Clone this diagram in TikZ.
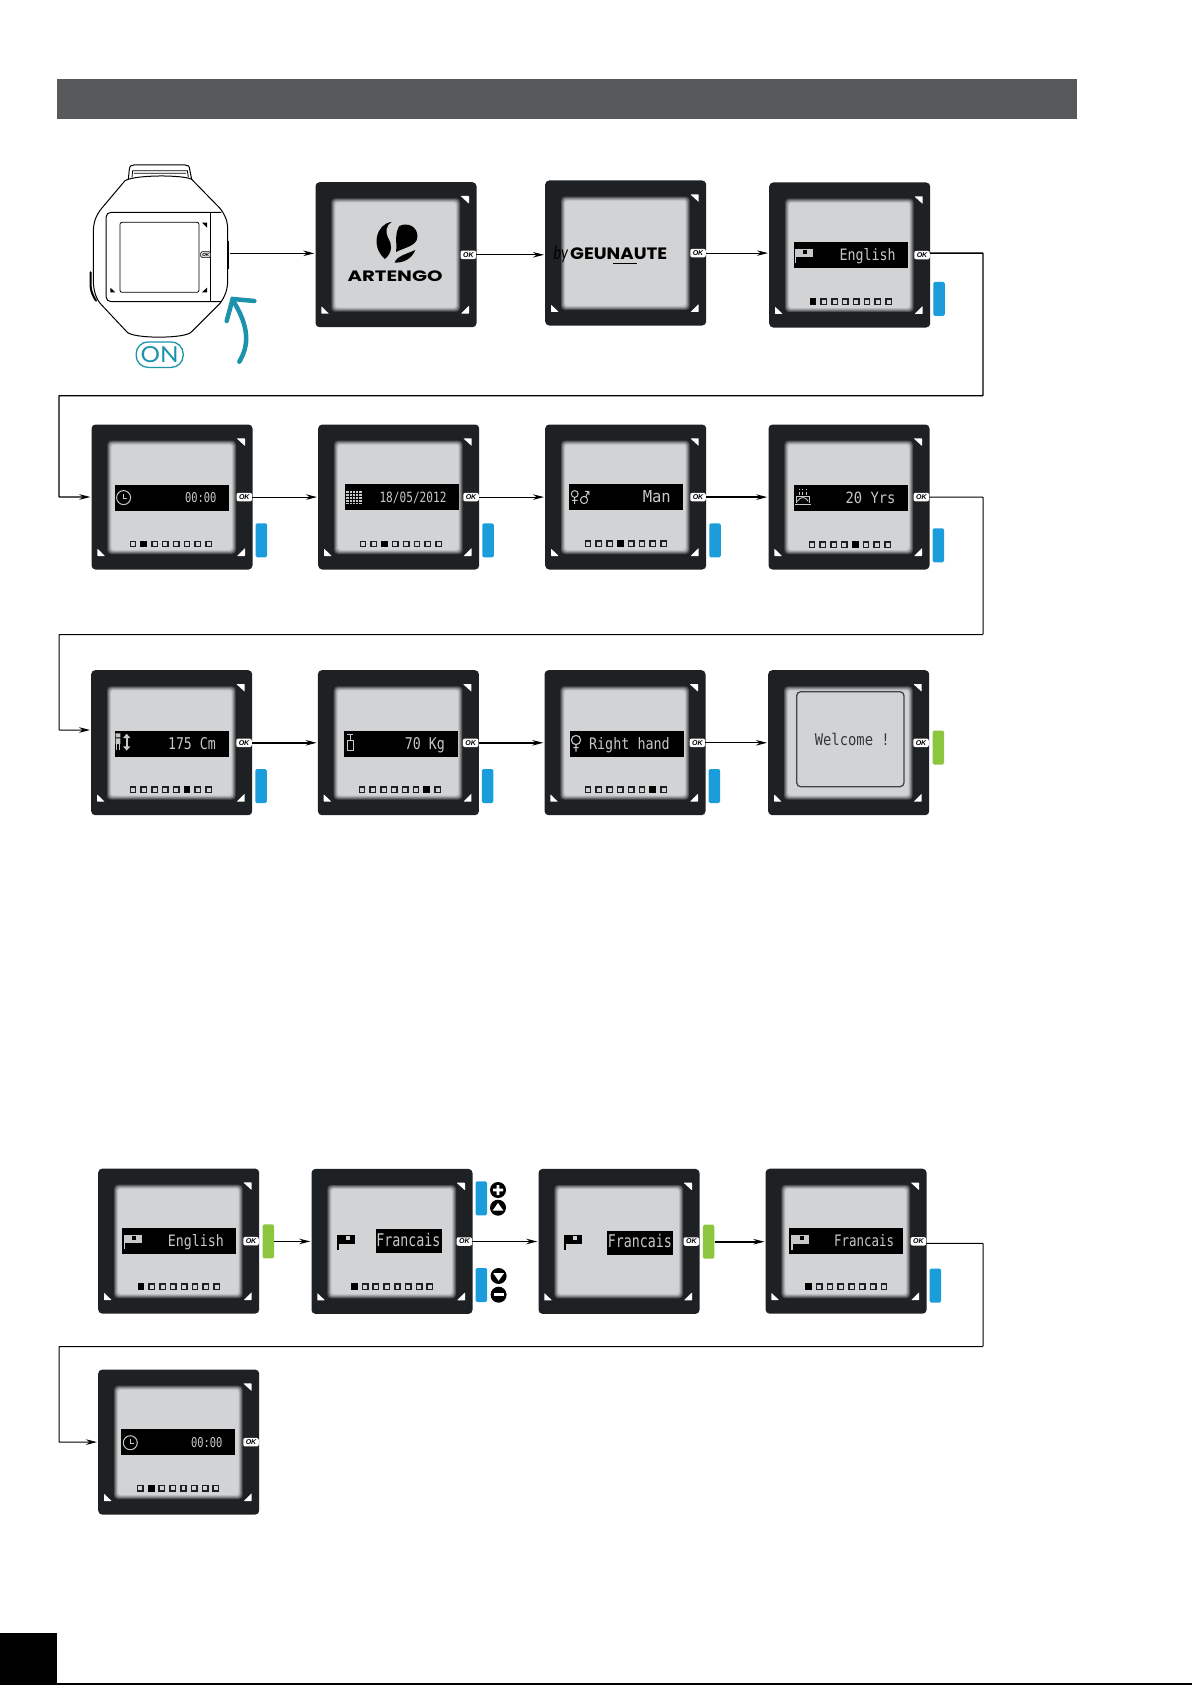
\documentclass[tikz,border=0pt]{standalone}
\usepackage{fontspec}
\usepackage{graphicx}
\usetikzlibrary{arrows.meta}
\setmainfont{Liberation Sans}
\newfontfamily\lcdfont{DejaVu Sans Mono}
\newfontfamily\logofont{Poppins}
\newfontfamily\onfont{Lato}
\definecolor{framecol}{HTML}{1E2124}
\definecolor{lcdcol}{HTML}{D1D3D4}
\definecolor{lcdtext}{HTML}{C6C8CA}
\definecolor{headcol}{HTML}{58595B}
\definecolor{bluecol}{HTML}{1B9DDB}
\definecolor{greencol}{HTML}{8CC63F}
\definecolor{tealcol}{HTML}{1A93AB}
\tikzset{
  framebox/.style={fill=framecol,rounded corners=4pt,inner sep=0pt,minimum width=161pt,minimum height=145pt,anchor=north west},
  okbadge/.style={fill=white,rounded corners=2pt,inner sep=0pt,minimum width=15.5pt,minimum height=8.5pt,font=\fontsize{7}{7}\selectfont\bfseries\itshape,text=black},
  bluemarkb/.style={fill=bluecol,rounded corners=1.5pt,inner sep=0pt,minimum width=11.5pt,minimum height=34pt},
  greenmarkb/.style={fill=greencol,rounded corners=1.5pt,inner sep=0pt,minimum width=11.5pt,minimum height=34pt},
  lcdlabel/.style={anchor=base east,inner sep=0pt,text=lcdtext},
  link/.style={draw=black,line width=1pt,-{Stealth[length=11pt,width=5.5pt]},shorten >=1pt},
  linkbold/.style={link,line width=1.6pt},
  linkroute/.style={link,rounded corners=0.5pt}
}
% frame with screen, corners and OK badge; #4 is drawn in frame coordinates
\newcommand{\screenbox}[4]{%
  \node[framebox] (#1) at (#2,#3) {};
  \begin{scope}[shift={(#2,#3)}]
    \fill[rounded corners=4pt,fill=black!62!lcdcol] (16,16.3) rectangle (144.7,129.7);
    \fill[rounded corners=4pt,fill=black!44!lcdcol] (17,17.3) rectangle (143.7,128.7);
    \fill[rounded corners=3.5pt,fill=black!26!lcdcol] (18,18.3) rectangle (142.7,127.7);
    \fill[rounded corners=3pt,fill=black!12!lcdcol] (19,19.3) rectangle (141.7,126.7);
    \fill[rounded corners=3pt,fill=lcdcol] (20,20.3) rectangle (140.7,125.7);
    \fill[white,rounded corners=0.6pt] (145.3,14) -- (153.7,14) -- (153.7,21.7) -- cycle;
    \fill[white,rounded corners=0.6pt] (6,124.3) -- (6,131.7) -- (13.7,131.7) -- cycle;
    \fill[white,rounded corners=0.6pt] (153.7,123.7) -- (153.7,131.7) -- (145.7,131.7) -- cycle;
    \node[okbadge] (#1-ok) at (153,72.8) {OK};
    #4
  \end{scope}}
\newcommand{\selbar}[2]{\fill[black] (#1,#2) rectangle ++(114,26);}
\newcommand{\lcdtxt}[5]{\node[lcdlabel] at (#1,#2) {\resizebox{#3pt}{#4pt}{\lcdfont #5}};}
\newcommand{\pagedots}[3]{%
  \foreach \k in {1,...,8}{%
    \pgfmathsetmacro{\px}{#1+(\k-1)*10.8}%
    \ifnum\k=#3\relax
      \fill[black] (\px-3.4,#2-3.4) rectangle (\px+3.4,#2+3.4);
    \else
      \draw[framecol,line width=1.5pt] (\px-2.7,#2-2.7) rectangle (\px+2.7,#2+2.7);
    \fi}}
\newcommand{\bluemark}[1]{\node[bluemarkb] at (170,#1) {};}
\newcommand{\greenmark}[2]{\node[greenmarkb] (#1-green) at (170.3,#2) {};}
\newcommand{\iconflag}[2]{%
  \fill[#1] (26,66.6) rectangle (43.7,75);
  \fill[#1] (26,66.6) rectangle (27.2,81);
  \fill[#2] (34.3,67.6) rectangle (38.3,71.6);}
\newcommand{\iconclock}{%
  \draw[lcdtext,line width=1pt] (32.3,73.3) circle (7pt);
  \draw[lcdtext,line width=1pt] (32.3,69.3) -- (32.3,74) -- (36,74);}
\newcommand{\iconcal}{%
  \fill[lcdtext] (28,66.3) rectangle (43.7,79.7);
  \foreach \g in {31,34,37,40}{\draw[black,line width=0.6pt] (\g,66.3) -- (\g,79.7);}
  \foreach \g in {69,72,75,78}{\draw[black,line width=0.6pt] (28,\g) -- (43.7,\g);}}
\newcommand{\icongender}{%
  \draw[lcdtext,line width=1pt] (29.7,69.7) circle (3.4pt) (29.7,73) -- (29.7,79.5) (26.8,76) -- (32.6,76);
  \draw[lcdtext,line width=1pt] (39,75.7) circle (3.6pt) (40.8,72.6) -- (43.3,67) (40,67) -- (43.8,67) -- (44,70.5);}
\newcommand{\iconcake}{%
  \draw[lcdtext,line width=1pt] (28,79) -- (28,71.7) -- (41,71.7) -- (41,79);
  \draw[lcdtext,line width=1.3pt] (26.7,80.2) -- (42.3,80.2);
  \draw[lcdtext,line width=0.9pt] (29,77) .. controls (32,72) and (37,72) .. (40,77);
  \foreach \g in {31,34.3,38.3}{\fill[lcdtext] (\g-0.6,64.4) rectangle (\g+0.6,65.6);
    \draw[lcdtext,line width=0.8pt] (\g,67.4) -- (\g,71);}}
\newcommand{\iconheight}{%
  \fill[lcdtext] (24.7,63.4) rectangle (29.4,67.4) (24.7,68.4) rectangle (29.4,74);
  \draw[lcdtext,line width=1pt] (25.4,74) -- (25.4,80.4) (28.7,74) -- (28.7,80.4);
  \draw[lcdtext,line width=1.6pt] (35.7,66) -- (35.7,78);
  \fill[lcdtext] (32,68) -- (35.7,63.8) -- (39.4,68) -- cycle (32,76.4) -- (35.7,80.6) -- (39.4,76.4) -- cycle;}
\newcommand{\iconweight}{%
  \draw[lcdtext,line width=1pt] (29.3,64.5) -- (35.3,64.5) (32.4,64.5) -- (32.4,70) (29.3,70) rectangle (35.8,80);}
\newcommand{\iconhand}{%
  \draw[lcdtext,line width=1.1pt] (31.7,70) circle (4.6pt) (31.7,74.6) -- (31.7,81.6) (29,77.6) -- (34.4,77.6);}
\begin{document}
\begin{tikzpicture}[x=1pt,y=-1pt]
\useasboundingbox (0,0) rectangle (1192,1685);
\fill[white] (0,0) rectangle (1192,1685);
% header and page marks
\fill[headcol] (57,79.5) rectangle (1077,119.5);
\fill[black] (0,1633) rectangle (57,1685);
\fill[black] (0,1683.4) rectangle (1192,1685);

% watch (coordinates of the 3x crop at 60,140)
\begin{scope}[shift={(60pt,-140pt)},x=0.33333pt,y=-0.33333pt]
  \draw[black,line width=1pt,line join=round] (195,122) -- (125,205) .. controls (105,230) and (100,250) .. (100,280) -- (100,420) .. controls (100,455) and (110,480) .. (125,495) -- (200,575) .. controls (215,597) and (380,597) .. (395,575) -- (480,490) .. controls (495,470) and (503,450) .. (503,420) -- (503,270) .. controls (503,240) and (495,225) .. (480,205) -- (395,118) .. controls (370,104) and (225,104) .. (195,122) -- cycle;
  \draw[black,line width=1pt] (205,118) -- (208,88) .. controls (209,78) and (214,75) .. (222,75) -- (375,75) .. controls (384,75) and (388,78) .. (389,88) -- (395,118);
  \draw[black,line width=0.8pt] (216,112) -- (218,92) -- (382,92) -- (385,112) (222,100) -- (378,100);
  \draw[black,line width=2pt,line cap=round] (92,397) -- (92,440) .. controls (93,455) and (100,470) .. (108,482);
  \draw[black,line width=2pt] (503,302) -- (503,388);
  \draw[black,line width=1pt,rounded corners=5pt] (484,217) -- (138,217) -- (138,485) -- (484,485);
  \draw[black,line width=0.8pt] (452,217) -- (452,485);
  \draw[black,line width=0.8pt,rounded corners=2pt] (180,247) rectangle (417,457);
  \fill[black] (426,248) -- (441,248) -- (441,263) -- cycle (151,443) -- (151,457) -- (166,457) -- cycle (441,443) -- (441,457) -- (426,457) -- cycle;
  \node[draw=black,fill=black!15,line width=0.5pt,rounded corners=1.5pt,inner sep=0pt,minimum width=10pt,minimum height=6pt,font=\fontsize{4.5}{4.5}\selectfont\bfseries\itshape] (watch-ok) at (437,344) {OK};
  \coordinate (watch-out) at (510,340);
  % ON label and turning arrow
  \node[draw=tealcol,line width=1.3pt,rounded corners=12pt,inner sep=0pt,minimum width=47pt,minimum height=25.5pt,text=tealcol] (on) at (299,644) {\resizebox{38pt}{16pt}{\onfont ON}};
  \draw[tealcol,line width=4.5pt,line cap=round] (538,665) .. controls (568,615) and (568,560) .. (518,480);
  \draw[tealcol,line width=4.5pt,line cap=round,line join=miter] (500,543) -- (518,477) -- (583,483);
\end{scope}

% row 1
\screenbox{logoa}{315.3}{182}{%
  \begin{scope}[shift={(-255.3pt,42pt)},x=0.33333pt,y=-0.33333pt]
    \fill[black] (995,246) .. controls (950,250) and (930,320) .. (975,357) .. controls (1000,335) and (995,310) .. (985,295) .. controls (975,275) and (978,255) .. (995,246) -- cycle;
    \fill[black] (1018,258) .. controls (1045,245) and (1075,262) .. (1072,292) .. controls (1070,318) and (1035,322) .. (1008,336) .. controls (1012,310) and (1002,285) .. (1018,258) -- cycle;
    \fill[black] (1066,330) .. controls (1055,355) and (1035,368) .. (1004,368) .. controls (1010,348) and (1040,342) .. (1066,330) -- cycle;
    \node[anchor=base west,inner sep=0pt] at (862,424) {\resizebox{95pt}{10.7pt}{\logofont\bfseries ARTENGO}};
  \end{scope}}
\screenbox{logob}{545}{180.3}{%
  \node[anchor=base west,inner sep=0pt] at (8.3,79.7) {\resizebox{14.5pt}{14pt}{\onfont\itshape by}};
  \node[anchor=base west,inner sep=0pt] at (25,79.7) {\resizebox{97pt}{11.7pt}{\logofont\bfseries GEUNAUTE}};
  \draw[black,line width=1.3pt] (68.3,83.2) -- (91.7,83.2);}
\screenbox{lang}{769}{182.3}{%
  \selbar{25}{60}\iconflag{lcdtext}{black}
  \lcdtxt{126.7}{78.3}{56}{12}{English}
  \pagedots{44}{119.3}{1}
  \bluemark{116.5}}

% row 2
\screenbox{clock}{91.3}{424.3}{%
  \selbar{23.3}{60.7}\iconclock
  \lcdtxt{125.3}{78.3}{31.3}{10}{00:00}
  \pagedots{41.7}{119.7}{2}
  \bluemark{116}}
\screenbox{date}{318}{424.3}{%
  \selbar{27}{60}\iconcal
  \lcdtxt{128.7}{78.3}{67}{10.5}{18/05/2012}
  \pagedots{45}{119.7}{3}
  \bluemark{116}}
\screenbox{sex}{545}{424.3}{%
  \selbar{24.3}{60}\icongender
  \lcdtxt{126}{78.3}{28}{12}{Man}
  \pagedots{43}{119.3}{4}
  \bluemark{116}}
\screenbox{age}{768.3}{424.3}{%
  \selbar{25.7}{61}\iconcake
  \lcdtxt{127.3}{79}{49.7}{11.5}{20 Yrs}
  \pagedots{43.7}{120.3}{5}
  \bluemark{121}}

% row 3
\screenbox{size}{91}{670}{%
  \selbar{23.7}{60.7}\iconheight
  \lcdtxt{125}{79}{47.7}{12}{175 Cm}
  \pagedots{42}{119.7}{6}
  \bluemark{116}}
\screenbox{weight}{317.7}{670}{%
  \selbar{26}{61}\iconweight
  \lcdtxt{127.3}{79}{40}{12}{70 Kg}
  \pagedots{44.3}{119.7}{7}
  \bluemark{116}}
\screenbox{hand}{544.3}{670}{%
  \selbar{25.3}{60.7}\iconhand
  \lcdtxt{125.7}{79}{80.7}{12}{Right hand}
  \pagedots{43.7}{119.7}{7}
  \bluemark{116}}
\screenbox{hello}{768}{670}{%
  \draw[framecol!85,line width=1.3pt,rounded corners=4pt] (28.7,21.7) rectangle (136,116.7);
  \node[anchor=base east,inner sep=0pt,text=framecol!90] at (122,75) {\resizebox{75pt}{12.3pt}{\lcdfont Welcome !}};
  \greenmark{hello}{77.5}}

% lower sequence
\screenbox{setb}{98}{1168.4}{%
  \selbar{24.3}{59.3}\iconflag{lcdtext}{black}
  \lcdtxt{126}{78.3}{56}{12}{English}
  \pagedots{43}{118.3}{1}
  \greenmark{setb}{73}}
\screenbox{setc}{311.3}{1168.7}{%
  \iconflag{black}{lcdcol}
  \fill[black] (64.7,60.7) rectangle (130.7,84.7);
  \lcdtxt{129.3}{78}{64}{13.3}{Francais}
  \pagedots{43}{118}{1}
  \node[bluemarkb] at (170,29.7) {};
  \node[bluemarkb] at (170,116.3) {};
  \fill[black] (186.7,21.3) circle (8pt) (186.7,39) circle (8pt) (187.3,107.3) circle (8pt) (187.3,126) circle (8pt);
  \fill[white] (181.7,19.9) rectangle (191.7,22.7) (185.3,16.3) rectangle (188.1,26.3);
  \fill[white] (186.7,34.2) -- (192,41.8) -- (181.4,41.8) -- cycle;
  \fill[white] (187.3,112.1) -- (192.6,104.5) -- (182,104.5) -- cycle;
  \fill[white] (182.3,124.6) rectangle (192.3,127.4);}
\screenbox{setd}{538.3}{1168.7}{%
  \iconflag{black}{lcdcol}
  \fill[black] (69,62.3) rectangle (135,86.3);
  \lcdtxt{133.7}{78.7}{64}{13.3}{Francais}
  \greenmark{setd}{73}}
\screenbox{sete}{765.4}{1168.5}{%
  \selbar{23.7}{59}\iconflag{lcdtext}{black}
  \lcdtxt{129}{78}{60}{12}{Francais}
  \pagedots{43}{118.3}{1}
  \bluemark{117}}
\screenbox{setf}{98}{1369.4}{%
  \selbar{23}{60}\iconclock
  \lcdtxt{124.7}{78.3}{31.3}{10}{00:00}
  \pagedots{42.3}{119}{2}}

% route corners
\coordinate (ra) at (983,395.7);
\coordinate (la) at (59,395.7);
\coordinate (rb) at (983,634.5);
\coordinate (lb) at (59,634.5);
\coordinate (inb) at (59,730);
\coordinate (rc) at (983,1346.5);
\coordinate (lc) at (59,1346.5);

% connectors
\draw[link] (watch-out) -- (watch-out -| logoa.west);
\draw[link] (logoa-ok.east) -- (logoa-ok.east -| logob.west);
\draw[link] (logob-ok.east) -- (logob-ok.east -| lang.west);
\draw[linkroute,line width=1.4pt] ([yshift=2pt]lang-ok.east) -- ([yshift=2pt]lang-ok.east -| ra) -- (ra) -- (la) -- (la |- clock.west) -- (clock.west);
\draw[link] (clock-ok.east) -- (clock-ok.east -| date.west);
\draw[link] (date-ok.east) -- (date-ok.east -| sex.west);
\draw[linkbold] (sex-ok.east) -- (sex-ok.east -| age.west);
\draw[linkroute] (age-ok.east) -- (age-ok.east -| rb) -- (rb) -- (lb) -- (inb) -- (inb -| size.west);
\draw[linkbold] (size-ok.east) -- (size-ok.east -| weight.west);
\draw[linkbold] (weight-ok.east) -- (weight-ok.east -| hand.west);
\draw[link] (hand-ok.east) -- (hand-ok.east -| hello.west);
\draw[linkbold] (setb-green.east) -- (setb-green.east -| setc.west);
\draw[linkbold] (setc-ok.east) -- (setc-ok.east -| setd.west);
\draw[linkbold] (setd-green.east) -- (setd-green.east -| sete.west);
\draw[linkroute] ([yshift=-2pt]sete-ok.east) -- ([yshift=-2pt]sete-ok.east -| rc) -- (rc) -- (lc) -- (lc |- setf.west) -- (setf.west);
\end{tikzpicture}
\end{document}
